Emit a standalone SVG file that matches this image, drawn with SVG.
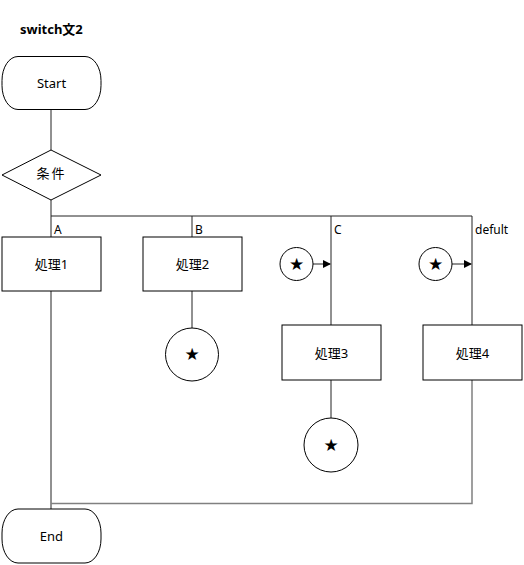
<svg xmlns="http://www.w3.org/2000/svg" width="524" height="565" viewBox="0 0 524 565">
<defs>
<style>
.sh{fill:#fff;stroke:#000;stroke-width:1}
.ln{fill:none;stroke:#222;stroke-width:1}
.gl{fill:none;stroke:#808080;stroke-width:1.5}
.t{font-family:"Noto Sans","Noto Sans CJK JP",sans-serif;font-size:13px;fill:#000;text-anchor:middle;dominant-baseline:central}
.l{font-family:"Noto Sans",sans-serif;font-size:12px;fill:#000}
.st{font-family:"DejaVu Sans",sans-serif;font-size:17px;fill:#000;text-anchor:middle;dominant-baseline:central}
</style>
<marker id="ar" markerWidth="8" markerHeight="8" refX="7" refY="4" orient="auto" markerUnits="userSpaceOnUse">
<path d="M0,0 L8,4 L0,8 Z" fill="#000"/>
</marker>
</defs>
<rect width="524" height="565" fill="#fff"/>
<text x="20" y="34" font-family="'Noto Sans','Noto Sans CJK JP',sans-serif" font-size="13" font-weight="bold" fill="#000">switch文2</text>
<g id="connectors">
<path class="ln" d="M51,110 V150"/>
<path class="ln" d="M51,200 V237"/>
<path class="ln" d="M51,216 H472"/>
<path class="ln" d="M192,216 V237"/>
<path class="ln" d="M331,216 V325"/>
<path class="ln" d="M472,216 V325"/>
<path class="ln" d="M192,291 V328"/>
<path class="ln" d="M331,380 V418"/>
<path class="ln" d="M51,291 V509"/>
<path class="gl" d="M472,380 V503.5 H51"/>
<path class="ln" d="M313,264 H330" marker-end="url(#ar)"/>
<path class="ln" d="M452,264 H471" marker-end="url(#ar)"/>
<text class="l" x="54" y="234">A</text>
<text class="l" x="195" y="234">B</text>
<text class="l" x="334" y="234">C</text>
<text class="l" x="475" y="234">defult</text>
</g>
<g id="start"><rect class="sh" x="2" y="56.5" width="99" height="53" rx="16" ry="24"/><text class="t" x="51.5" y="83">Start</text></g>
<g id="cond"><polygon class="sh" points="51,150 101,175 51,200 2,175"/><text class="t" x="51.5" y="173" letter-spacing="2">条件</text></g>
<g id="p1"><rect class="sh" x="2" y="237" width="99" height="54"/><text class="t" x="51.5" y="264">処理1</text></g>
<g id="p2"><rect class="sh" x="143" y="237" width="99" height="54"/><text class="t" x="192.5" y="264">処理2</text></g>
<g id="p3"><rect class="sh" x="282" y="325" width="99" height="55"/><text class="t" x="331.5" y="353">処理3</text></g>
<g id="p4"><rect class="sh" x="423" y="325" width="99" height="55"/><text class="t" x="472.5" y="353">処理4</text></g>
<g id="c2"><circle class="sh" cx="192" cy="354.5" r="26.5"/><text class="st" x="192" y="354">★</text></g>
<g id="c3"><circle class="sh" cx="331" cy="445" r="27"/><text class="st" x="331" y="445">★</text></g>
<g id="cC"><circle class="sh" cx="296.5" cy="264" r="16.5"/><text class="st" x="296.5" y="264">★</text></g>
<g id="cD"><circle class="sh" cx="435.5" cy="264" r="16.5"/><text class="st" x="435.5" y="264">★</text></g>
<g id="end"><rect class="sh" x="2" y="509" width="99" height="54" rx="16" ry="24"/><text class="t" x="51.5" y="536">End</text></g>
</svg>
